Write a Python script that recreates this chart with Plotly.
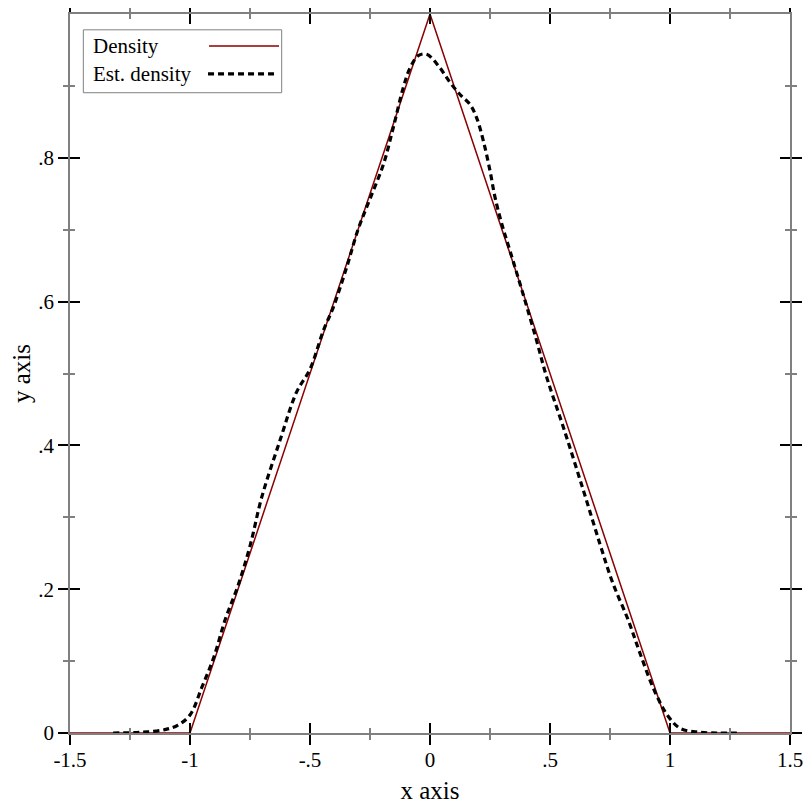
import plotly.graph_objects as go

# True density (triangular)
dens_x = [-1.5, -1.0, 0.0, 1.0, 1.5]
dens_y = [0.0, 0.0, 1.0, 0.0, 0.0]

# Estimated density
est_x = [-1.32, -1.2, -1.1, -1.05, -1.0, -0.95, -0.9, -0.854, -0.8, -0.75, -0.701, -0.625,
         -0.556, -0.5, -0.444, -0.403, -0.347, -0.3, -0.25, -0.194, -0.153, -0.111, -0.083,
         -0.049, -0.014, 0.035, 0.083, 0.125, 0.167, 0.194, 0.222, 0.25, 0.271, 0.3, 0.333,
         0.39, 0.444, 0.486, 0.556, 0.639, 0.708, 0.76, 0.826, 0.875, 0.9375, 0.993, 1.042,
         1.11, 1.2, 1.29]
est_y = [0.0, 0.001, 0.005, 0.011, 0.025, 0.064, 0.106, 0.157, 0.205, 0.26, 0.328, 0.407,
         0.474, 0.506, 0.56, 0.592, 0.648, 0.70, 0.743, 0.791, 0.842, 0.898, 0.925,
         0.942, 0.944, 0.928, 0.905, 0.888, 0.874, 0.856, 0.824, 0.782, 0.745, 0.707, 0.671,
         0.608, 0.546, 0.495, 0.425, 0.3375, 0.263, 0.21, 0.157, 0.111, 0.057, 0.023, 0.0065,
         0.0015, 0.0, 0.0]

x_tickvals = [-1.5, -1.0, -0.5, 0.0, 0.5, 1.0, 1.5]
x_ticktext = ["-1.5", "-1", "-.5", "0", ".5", "1", "1.5"]
x_minor = [-1.25, -0.75, -0.25, 0.25, 0.75, 1.25]
y_tickvals = [0.0, 0.2, 0.4, 0.6, 0.8]
y_ticktext = ["0", ".2", ".4", ".6", ".8"]
y_minor = [0.1, 0.3, 0.5, 0.7, 0.9]

legend_labels = ["Density", "Est. density"]

FONT = "Liberation Serif, Times New Roman, serif"
X_RANGE = [-1.5, 1.5]
Y_RANGE = [0.0, 1.0]

fig = go.Figure()
fig.add_trace(go.Scatter(x=dens_x, y=dens_y, mode="lines", name=legend_labels[0],
                         line=dict(color="#8b0000", width=1.5), showlegend=False))
fig.add_trace(go.Scatter(x=est_x, y=est_y, mode="lines", name=legend_labels[1],
                         line=dict(color="black", width=3.2, dash="6px,4px"),
                         line_shape="spline", showlegend=False))
# dummy trace to activate overlay axes (inside ticks)
fig.add_trace(go.Scatter(x=[None], y=[None], xaxis="x2", yaxis="y2", showlegend=False,
                         hoverinfo="skip"))

common_major = dict(ticklen=10, tickwidth=2, tickcolor="black", showgrid=False,
                    zeroline=False, showline=True, linecolor="#808080", linewidth=1.5,
                    automargin=False)

# page body has an 8px margin, so the figure is 796px and margins are offset by 8px
fig.update_layout(
    width=796, height=796,
    margin=dict(l=62, r=14, t=6, b=71),
    paper_bgcolor="white", plot_bgcolor="white",
    font=dict(family=FONT, size=21, color="black"),
    xaxis=dict(range=X_RANGE, tickmode="array", tickvals=x_tickvals, ticktext=x_ticktext,
               ticks="outside", mirror="ticks", ticklabelstandoff=-3,
               minor=dict(tickvals=x_minor, ticks="outside", ticklen=5, tickwidth=1.5,
                          tickcolor="#808080"),
               title=dict(text="x axis", standoff=12), **common_major),
    yaxis=dict(range=Y_RANGE, tickmode="array", tickvals=y_tickvals, ticktext=y_ticktext,
               ticks="outside", mirror="ticks", ticklabelstandoff=0,
               minor=dict(tickvals=y_minor, ticks="outside", ticklen=5, tickwidth=1.5,
                          tickcolor="#808080"),
               title=dict(text="y axis", standoff=12), **common_major),
    xaxis2=dict(range=X_RANGE, overlaying="x", anchor="y2", side="bottom",
                tickmode="array", tickvals=x_tickvals, showticklabels=False,
                ticks="inside", mirror="ticks",
                minor=dict(tickvals=x_minor, ticks="inside", ticklen=5, tickwidth=1.5,
                           tickcolor="#808080"), **common_major),
    yaxis2=dict(range=Y_RANGE, overlaying="y", anchor="x2", side="left",
                tickmode="array", tickvals=y_tickvals, showticklabels=False,
                ticks="inside", mirror="ticks",
                minor=dict(tickvals=y_minor, ticks="inside", ticklen=5, tickwidth=1.5,
                           tickcolor="#808080"), **common_major),
)

# Legend box drawn manually (sample lines on the right like the reference)
fig.add_shape(type="rect", xref="paper", yref="paper", x0=0.0185, x1=0.294, y0=0.8905, y1=0.978,
              line=dict(color="#808080", width=1), fillcolor="white", layer="above")
fig.add_shape(type="line", xref="paper", yref="paper", x0=0.1931, x1=0.2903, y0=0.9555, y1=0.9555,
              line=dict(color="#8b0000", width=1.5), layer="above")
fig.add_shape(type="line", xref="paper", yref="paper", x0=0.1917, x1=0.2847, y0=0.9166, y1=0.9166,
              line=dict(color="black", width=3.2, dash="6px,4px"), layer="above")
fig.add_annotation(xref="paper", yref="paper", x=0.0288, y=0.9555, text=legend_labels[0],
                   showarrow=False, xanchor="left", yanchor="middle",
                   font=dict(family=FONT, size=21, color="black"))
fig.add_annotation(xref="paper", yref="paper", x=0.0288, y=0.9166, text=legend_labels[1],
                   showarrow=False, xanchor="left", yanchor="middle",
                   font=dict(family=FONT, size=21, color="black"))

fig.write_html("out.html")
